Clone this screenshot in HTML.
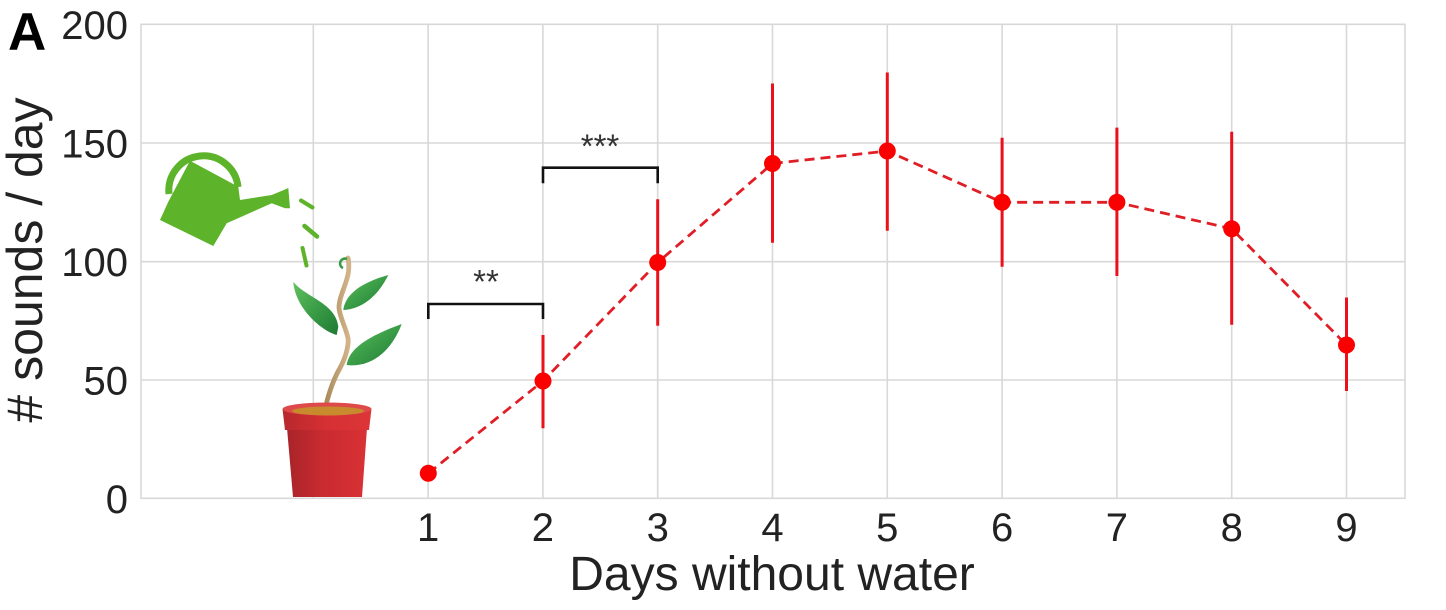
<!DOCTYPE html>
<html><head><meta charset="utf-8"><style>
html,body{margin:0;padding:0;background:#fff;}
svg{display:block;}
text{font-family:"Liberation Sans",Arial,sans-serif;}
</style></head><body>
<svg width="1446" height="610" viewBox="0 0 1446 610" xmlns="http://www.w3.org/2000/svg">
<defs>
<linearGradient id="leaf" x1="0" y1="0" x2="1" y2="1">
<stop offset="0" stop-color="#62c25e"/><stop offset="0.5" stop-color="#3a9d47"/><stop offset="1" stop-color="#1f7a34"/>
</linearGradient>
<linearGradient id="pot" x1="0" y1="0" x2="1" y2="0">
<stop offset="0" stop-color="#a82429"/><stop offset="0.45" stop-color="#c92b30"/><stop offset="1" stop-color="#d83236"/>
</linearGradient>
<linearGradient id="rim" x1="0" y1="0" x2="1" y2="0">
<stop offset="0" stop-color="#b7282d"/><stop offset="0.5" stop-color="#d63034"/><stop offset="1" stop-color="#dd3538"/>
</linearGradient>
<linearGradient id="stem" x1="0" y1="0" x2="1" y2="0">
<stop offset="0" stop-color="#a8895a"/><stop offset="1" stop-color="#d2b488"/>
</linearGradient>
</defs>
<rect width="1446" height="610" fill="#fff"/>
<!-- grid -->
<g stroke="#d8d8d8" stroke-width="1.6" fill="none">
<line x1="141" y1="143" x2="1405" y2="143"/>
<line x1="141" y1="261.7" x2="1405" y2="261.7"/>
<line x1="141" y1="380" x2="1405" y2="380"/>
<line x1="313.3" y1="24.3" x2="313.3" y2="498.3"/>
<line x1="428.1" y1="24.3" x2="428.1" y2="498.3"/>
<line x1="542.9" y1="24.3" x2="542.9" y2="498.3"/>
<line x1="657.7" y1="24.3" x2="657.7" y2="498.3"/>
<line x1="772.5" y1="24.3" x2="772.5" y2="498.3"/>
<line x1="887.3" y1="24.3" x2="887.3" y2="498.3"/>
<line x1="1002.1" y1="24.3" x2="1002.1" y2="498.3"/>
<line x1="1116.9" y1="24.3" x2="1116.9" y2="498.3"/>
<line x1="1231.7" y1="24.3" x2="1231.7" y2="498.3"/>
<line x1="1346.5" y1="24.3" x2="1346.5" y2="498.3"/>
<rect x="141" y="24.3" width="1264" height="474"/>
</g>
<!-- watering can -->
<g fill="#5db42a">
<path d="M169 194 A34 34 0 1 1 238 187" fill="none" stroke="#5db42a" stroke-width="7"/>
<polygon points="190,160.7 238.3,186.7 240,200 271.7,195 285,189.5 288.3,188 290,208.3 285,208.3 271.7,203.3 226.7,223.3 213.3,246 160,220 168.3,201.7"/>
</g>
<g stroke="#5db42a" stroke-linecap="round" fill="none">
<line x1="301" y1="200.5" x2="312.5" y2="207.5" stroke-width="4"/>
<line x1="304.5" y1="226" x2="317" y2="236.5" stroke-width="4.5"/>
<line x1="302.5" y1="248" x2="306.5" y2="265.5" stroke-width="4"/>
</g>
<!-- plant -->
<path d="M325 411 C327 398 333 380 340 368 C346 357 349 345 348 338 C346 328 340 318 339 308 C339 296 347 284 348.5 272 C349 266 349 262 348 258" fill="none" stroke="url(#stem)" stroke-width="4.8" stroke-linecap="round"/>
<path d="M347 259 A4 4 0 1 0 343 268" fill="none" stroke="#3a9a45" stroke-width="2.5"/>
<path d="M336.7,335 C320,330 295,307 293.3,281.7 C305,297 336,303 338.3,326.7 Z" fill="url(#leaf)"/>
<path d="M343.3,310 C345,295 360,283 388.3,275 C378,296 362,309 343.3,310 Z" fill="url(#leaf)"/>
<path d="M346.7,365 C349,347 372,335 401.7,324 C392,350 372,368 346.7,365 Z" fill="url(#leaf)"/>
<!-- pot -->
<polygon points="287,428 367,428 362,497 293,497" fill="url(#pot)"/>
<path d="M282.5,409 L371.5,409 L369,430 L285,430 Z" fill="url(#rim)"/>
<ellipse cx="327" cy="409" rx="44.5" ry="6.5" fill="#de4a4a"/>
<ellipse cx="328" cy="411" rx="36" ry="4.5" fill="#c98a2e"/>
<!-- brackets -->
<g stroke="#111" stroke-width="2.6" fill="none">
<polyline points="428.3,319 428.3,304 543,304 543,319"/>
<polyline points="543,183.3 543,167.7 657.7,167.7 657.7,183.3"/>
</g>
<text x="486" y="293" font-size="33" text-anchor="middle" fill="#333">**</text>
<text x="600" y="157.5" font-size="33" text-anchor="middle" fill="#333">***</text>
<!-- dashed line -->
<polyline points="428.3,473.3 543,381 657.7,262.5 772.5,163.5 887.3,151 1002.1,202.3 1116.9,202.3 1231.7,228.8 1346.5,345" fill="none" stroke="#e01e26" stroke-width="2.8" stroke-dasharray="10,6"/>
<!-- error bars -->
<g stroke="#ea111b" stroke-width="3">
<line x1="543" y1="335" x2="543" y2="428.3"/>
<line x1="657.7" y1="199.3" x2="657.7" y2="325.7"/>
<line x1="772.5" y1="83.5" x2="772.5" y2="242.7"/>
<line x1="887.3" y1="72.5" x2="887.3" y2="230.7"/>
<line x1="1002.1" y1="137.7" x2="1002.1" y2="266.7"/>
<line x1="1116.9" y1="127.6" x2="1116.9" y2="276"/>
<line x1="1231.7" y1="131.8" x2="1231.7" y2="324.8"/>
<line x1="1346.5" y1="297.5" x2="1346.5" y2="391"/>
</g>
<g fill="#fb0000">
<circle cx="428.3" cy="473.3" r="8.5"/>
<circle cx="543" cy="381" r="8.5"/>
<circle cx="657.7" cy="262.5" r="8.5"/>
<circle cx="772.5" cy="163.5" r="8.5"/>
<circle cx="887.3" cy="151" r="8.5"/>
<circle cx="1002.1" cy="202.3" r="8.5"/>
<circle cx="1116.9" cy="202.3" r="8.5"/>
<circle cx="1231.7" cy="228.8" r="8.5"/>
<circle cx="1346.5" cy="345" r="8.5"/>
</g>
<!-- y tick labels -->
<g font-size="40" fill="#222" text-anchor="end">
<text x="128" y="39">200</text>
<text x="128" y="157.5">150</text>
<text x="128" y="276">100</text>
<text x="128" y="394.5">50</text>
<text x="128" y="513">0</text>
</g>
<!-- x tick labels -->
<g font-size="40" fill="#222" text-anchor="middle">
<text x="428.1" y="541">1</text>
<text x="542.9" y="541">2</text>
<text x="657.7" y="541">3</text>
<text x="772.5" y="541">4</text>
<text x="887.3" y="541">5</text>
<text x="1002.1" y="541">6</text>
<text x="1116.9" y="541">7</text>
<text x="1231.7" y="541">8</text>
<text x="1346.5" y="541">9</text>
</g>
<text x="772" y="590" font-size="48" fill="#222" text-anchor="middle">Days without water</text>
<text transform="translate(42,260) rotate(-90)" font-size="50" fill="#222" text-anchor="middle"># sounds / day</text>
<text x="8" y="50" font-size="53" font-weight="bold" fill="#000">A</text>
</svg>
</body></html>
